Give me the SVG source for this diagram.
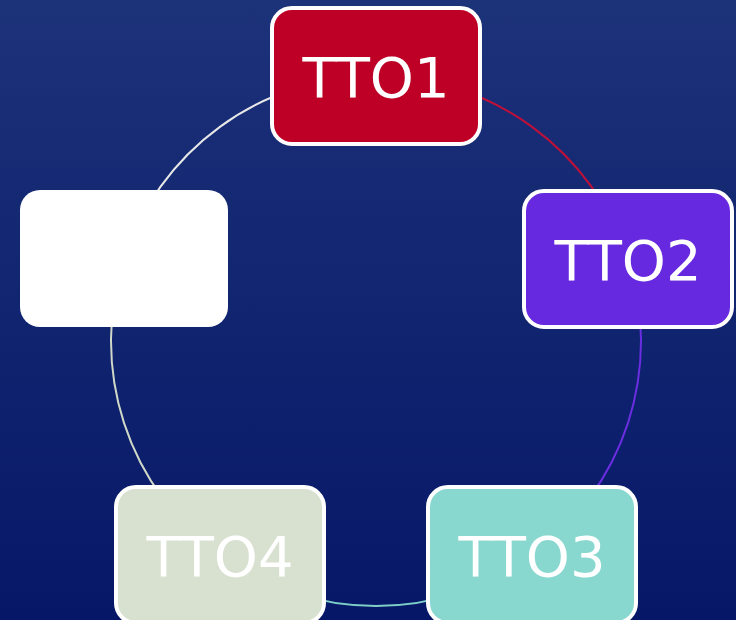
<svg xmlns="http://www.w3.org/2000/svg" width="736" height="620" viewBox="0 0 736 620">
<defs>
<linearGradient id="bg" x1="0" y1="0" x2="0" y2="1">
<stop offset="0" stop-color="#1c3279"/>
<stop offset="1" stop-color="#061767"/>
</linearGradient>
</defs>
<style>
.arc{fill:none;stroke-width:2}
.box{stroke:#ffffff;stroke-width:4}
.lbl{font-family:"DejaVu Sans",Verdana,sans-serif;font-size:56px;fill:#ffffff;text-anchor:middle}
</style>
<rect width="736" height="620" fill="url(#bg)"/>
<g id="connectors">
<path class="arc" stroke="#c0103a" d="M376 76 A265 265 0 0 1 628.03 259.11"/>
<path class="arc" stroke="#6a2ee0" d="M628.03 259.11 A265 265 0 0 1 531.76 555.39"/>
<path class="arc" stroke="#7fcfc8" d="M531.76 555.39 A265 265 0 0 1 220.24 555.39"/>
<path class="arc" stroke="#d0d8c8" d="M220.24 555.39 A265 265 0 0 1 123.97 259.11"/>
<path class="arc" stroke="#e8e8e8" d="M123.97 259.11 A265 265 0 0 1 376 76"/>
</g>
<g id="tto1">
<rect class="box" x="272" y="8" width="208" height="136" rx="20" fill="#be0027"/>
<text class="lbl" x="376" y="97">TTO1</text>
</g>
<g id="tto2">
<rect class="box" x="524" y="191" width="208" height="136" rx="20" fill="#6629e0"/>
<text class="lbl" x="628" y="280">TTO2</text>
</g>
<g id="tto3">
<rect class="box" x="428" y="487" width="208" height="136" rx="20" fill="#88d8d0"/>
<text class="lbl" x="532" y="576">TTO3</text>
</g>
<g id="tto4">
<rect class="box" x="116" y="487" width="208" height="136" rx="20" fill="#d8e0d0"/>
<text class="lbl" x="220" y="576">TTO4</text>
</g>
<g id="blank">
<rect x="20" y="190" width="208" height="137" rx="20" fill="#ffffff"/>
</g>
</svg>
